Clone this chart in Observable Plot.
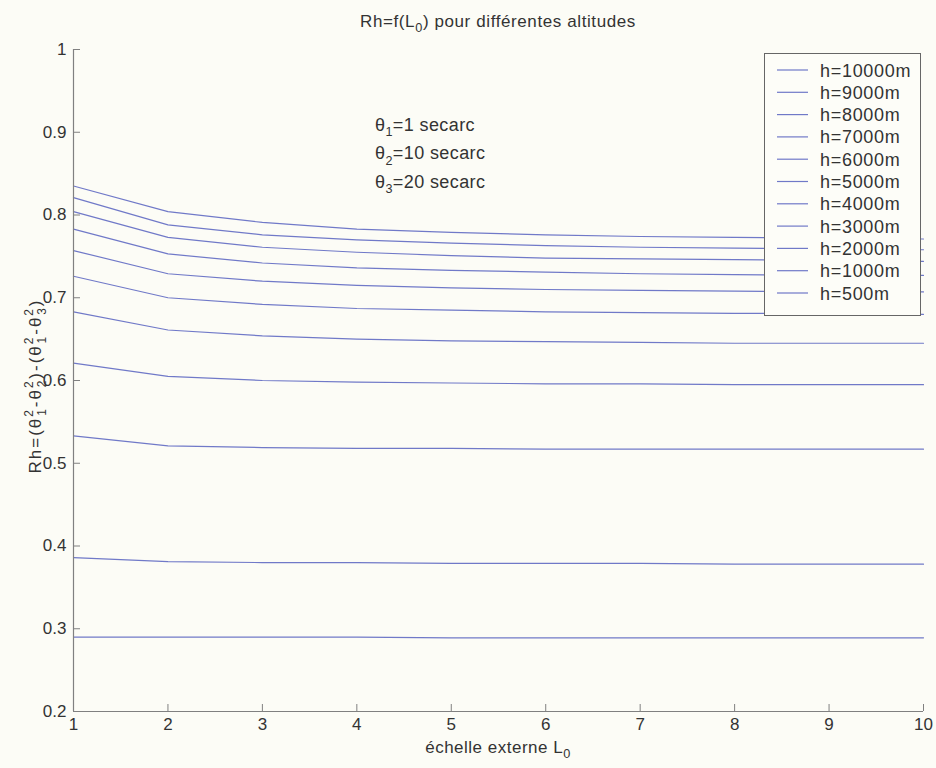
<!DOCTYPE html>
<html>
<head>
<meta charset="utf-8">
<script src="https://cdn.jsdelivr.net/npm/d3@7"></script>
<script src="https://cdn.jsdelivr.net/npm/@observablehq/plot@0.6"></script>
<style>
  html, body { margin: 0; padding: 0; background: #fcfcf6; }
  #chart { width: 936px; height: 768px; }
  svg text { font-family: "Liberation Sans", Arial, Helvetica, sans-serif; }
</style>
</head>
<body>
<div id="chart"></div>
<script>
// Outer scale L0 (x) and Rh ratio for each altitude
const L0 = [1, 2, 3, 4, 5, 6, 7, 8, 9, 10];
const altitudes = ["h=10000m", "h=9000m", "h=8000m", "h=7000m", "h=6000m", "h=5000m",
                   "h=4000m", "h=3000m", "h=2000m", "h=1000m", "h=500m"];
const rh10000 = [0.835, 0.804, 0.791, 0.783, 0.779, 0.776, 0.774, 0.773, 0.772, 0.771];
const rh9000  = [0.821, 0.788, 0.776, 0.770, 0.766, 0.763, 0.761, 0.760, 0.759, 0.758];
const rh8000  = [0.804, 0.773, 0.761, 0.755, 0.751, 0.748, 0.747, 0.746, 0.745, 0.744];
const rh7000  = [0.783, 0.753, 0.742, 0.736, 0.733, 0.731, 0.729, 0.728, 0.727, 0.727];
const rh6000  = [0.757, 0.729, 0.720, 0.715, 0.712, 0.710, 0.709, 0.708, 0.707, 0.707];
const rh5000  = [0.726, 0.700, 0.692, 0.687, 0.685, 0.683, 0.682, 0.681, 0.681, 0.680];
const rh4000  = [0.683, 0.661, 0.654, 0.650, 0.648, 0.647, 0.646, 0.645, 0.645, 0.645];
const rh3000  = [0.621, 0.605, 0.600, 0.598, 0.597, 0.596, 0.596, 0.595, 0.595, 0.595];
const rh2000  = [0.533, 0.521, 0.519, 0.518, 0.518, 0.517, 0.517, 0.517, 0.517, 0.517];
const rh1000  = [0.386, 0.381, 0.380, 0.380, 0.379, 0.379, 0.379, 0.378, 0.378, 0.378];
const rh500   = [0.290, 0.290, 0.290, 0.290, 0.289, 0.289, 0.289, 0.289, 0.289, 0.289];
const seriesValues = [rh10000, rh9000, rh8000, rh7000, rh6000, rh5000,
                      rh4000, rh3000, rh2000, rh1000, rh500];
const xTicks = [1, 2, 3, 4, 5, 6, 7, 8, 9, 10];
const yTicks = [0.2, 0.3, 0.4, 0.5, 0.6, 0.7, 0.8, 0.9, 1];

const lineColor = "#7079c8";
const axisColor = "#808080";
const textColor = "#333333";

const rows = altitudes.flatMap((h, k) =>
  seriesValues[k].map((v, i) => ({L0: L0[i], Rh: v, h})));

const chart = Plot.plot({
  width: 936,
  height: 768,
  marginLeft: 73,
  marginRight: 13,
  marginTop: 49,
  marginBottom: 57,
  x: {domain: [1, 10]},
  y: {domain: [0.2, 1]},
  style: {background: "transparent", fontSize: "17px", color: textColor,
          fontFamily: "'Liberation Sans', Arial, Helvetica, sans-serif"},
  marks: [
    Plot.line(rows, {x: "L0", y: "Rh", z: "h", stroke: lineColor, strokeWidth: 1.2}),
    Plot.ruleX([1], {stroke: axisColor, strokeWidth: 1.2}),
    Plot.ruleY([0.2], {stroke: axisColor, strokeWidth: 1.2}),
    Plot.axisX(xTicks, {tickSize: -7, tickPadding: 13, label: null, fontSize: 17,
      stroke: axisColor, fill: textColor, tickFormat: d3.format("~g")}),
    Plot.axisY(yTicks, {tickSize: -7, tickPadding: 14, label: null, fontSize: 17,
      stroke: axisColor, fill: textColor, tickFormat: d3.format("~g")})
  ]
});
document.getElementById("chart").appendChild(chart);

const svg = d3.select(chart);

// Text with sub/superscripts: parts are {t, shift (em, + = down), size (em), dx (px)}
function richText(g, parts, attrs, fontSize) {
  const text = g.append("text").attr("text-anchor", "start");
  for (const [k, v] of Object.entries(attrs)) text.attr(k, v);
  text.attr("font-size", fontSize).attr("fill", textColor);
  let cur = 0;
  for (const p of parts) {
    const shift = p.shift || 0;
    const size = p.size || 1;
    const ts = text.append("tspan").text(p.t)
      .attr("font-size", size * fontSize)
      .attr("dy", ((shift - cur) * fontSize).toFixed(2));
    if (p.dx) ts.attr("dx", p.dx);
    cur = shift;
  }
  return text;
}

// Title
richText(svg, [
  {t: "Rh=f(L"}, {t: "0", shift: 0.3, size: 0.75}, {t: ") pour différentes altitudes"}
], {x: 498, y: 27, "text-anchor": "middle", "letter-spacing": "0.6"}, 17);

// X label
richText(svg, [
  {t: "échelle externe L"}, {t: "0", shift: 0.3, size: 0.75}
], {x: 498, y: 753, "text-anchor": "middle", "letter-spacing": "0.5"}, 17);

// Y label (rotated)
const fs = 17, sw = 0.7 * fs * 0.556;
function theta2(sub) {
  return [{t: "θ"}, {t: "2", shift: -0.45, size: 0.7}, {t: sub, shift: 0.3, size: 0.7, dx: -(sw + 1.2)}];
}
richText(svg, [
  {t: "Rh=("}, ...theta2("1"), {t: "-", shift: 0}, ...theta2("2"), {t: ")-(", shift: 0},
  ...theta2("1"), {t: "-", shift: 0}, ...theta2("3"), {t: ")", shift: 0}
], {transform: "translate(41,386) rotate(-90)", "text-anchor": "middle", "letter-spacing": "2"}, fs);

// Parameter annotation
const notes = [["1", "=1 secarc"], ["2", "=10 secarc"], ["3", "=20 secarc"]];
notes.forEach(([s, rest], i) => {
  richText(svg, [
    {t: "θ"}, {t: s, shift: 0.3, size: 0.7}, {t: rest, shift: 0}
  ], {x: 375, y: 131 + i * 28.3, "letter-spacing": "0.4"}, 18);
});

// Legend box
const lg = svg.append("g");
lg.append("rect").attr("x", 764.5).attr("y", 53.5).attr("width", 156).attr("height", 262)
  .attr("fill", "#fdfdf8").attr("stroke", "#666").attr("stroke-width", 1);
altitudes.forEach((h, i) => {
  const cy = 70 + i * 22.3;
  lg.append("line").attr("x1", 777).attr("x2", 808).attr("y1", cy).attr("y2", cy)
    .attr("stroke", lineColor).attr("stroke-width", 1.2);
  lg.append("text").attr("x", 820).attr("y", cy + 6.5).attr("font-size", 18)
    .attr("text-anchor", "start")
    .attr("fill", textColor).attr("letter-spacing", "0.7").text(h);
});
</script>
</body>
</html>
